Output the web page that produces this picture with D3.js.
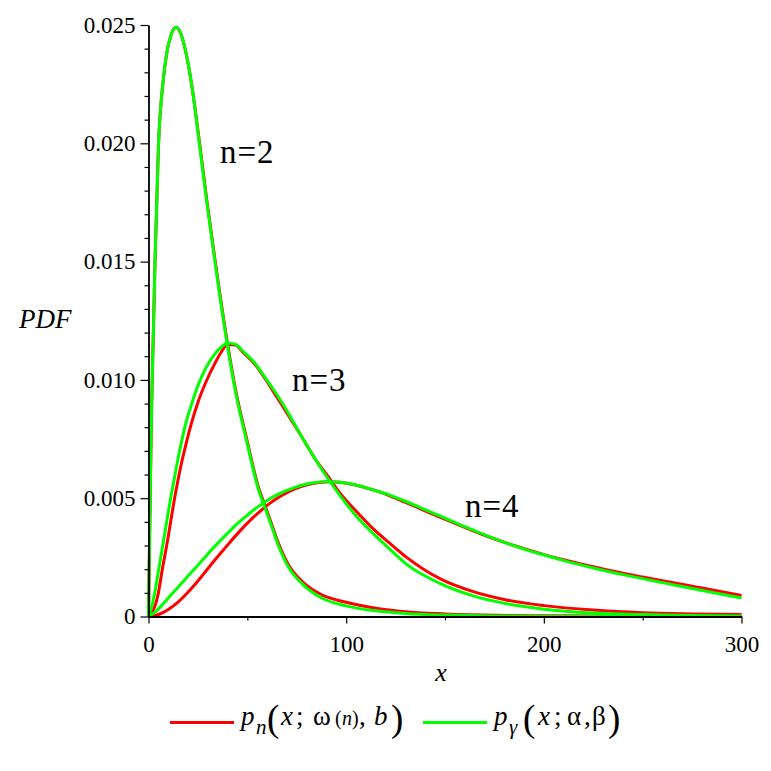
<!DOCTYPE html>
<html>
<head>
<meta charset="utf-8">
<script src="https://cdn.jsdelivr.net/npm/d3@7"></script>
<style>
  body { margin: 0; background: #fff; }
  svg, svg text { font-family: 'Liberation Serif', 'Times New Roman', Times, serif; }
</style>
</head>
<body>
<svg id="chart" width="771" height="771"></svg>
<script>
// ticks
const xTicks = [0, 100, 200, 300];
const xMinorTicks = [50, 150, 250];
const yTicks = [0, 0.005, 0.010, 0.015, 0.020, 0.025];
const yMinorTicks = [0.001, 0.002, 0.003, 0.004, 0.006, 0.007, 0.008, 0.009, 0.011, 0.012, 0.013, 0.014,
                     0.016, 0.017, 0.018, 0.019, 0.021, 0.022, 0.023, 0.024];

// n = 2
const n2X = [0, 0.5, 1, 1.5, 2.4, 3.3, 5, 7.5, 9.2, 11.5, 14, 16.5, 18.5, 21.8, 25.7, 29.5, 33.6, 38.7, 44,
             49.7, 55.5, 58.9, 62.3, 65.7, 70.7, 77.5, 87.6, 100, 115, 130, 150, 175, 200, 250, 300];
const n2Red = [0, 0.0030, 0.0058, 0.0085, 0.0118, 0.0150, 0.0198, 0.0227, 0.0238, 0.0246, 0.0249, 0.0246,
               0.0240, 0.0225, 0.0201, 0.0176, 0.0151, 0.0122, 0.0096, 0.0075, 0.0055, 0.0047, 0.0039,
               0.0031, 0.0022, 0.0015, 0.00092, 0.0006, 0.00035, 0.0002, 0.00011, 0.00005, 0.00003, 0.00001, 0];
const n2Green = [0, 0.0030, 0.0058, 0.0085, 0.0118, 0.0150, 0.0198, 0.0227, 0.0238, 0.0246, 0.0249, 0.0246,
                 0.0240, 0.0225, 0.0200, 0.0175, 0.0150, 0.0121, 0.0095, 0.0074, 0.0054, 0.0046, 0.0038,
                 0.0030, 0.0021, 0.0014, 0.00078, 0.00045, 0.00024, 0.00013, 0.00006, 0.00002, 0.00001, 0, 0];

// n = 3
const n3X = [0, 2, 3.5, 5, 7, 9.2, 11, 13, 15, 17, 19, 21.5, 25.2, 29, 33.6, 37, 40, 44, 48, 53.9, 59, 64, 70,
             77.5, 84, 91, 97, 104.5, 113.7, 122, 130.6, 147.4, 164.3, 181, 200, 225, 250, 275, 300];
const n3Red = [0, 0.0002, 0.0005, 0.0010, 0.0020, 0.0030, 0.0039, 0.0049, 0.0058, 0.0066, 0.0073, 0.0081,
               0.0091, 0.0099, 0.0107, 0.0112, 0.0115, 0.01147, 0.01115, 0.01065, 0.01005, 0.0094, 0.0086,
               0.0076, 0.0067, 0.0059, 0.0052, 0.0045, 0.0037, 0.0031, 0.0025, 0.0016, 0.00105, 0.0007,
               0.00046, 0.00027, 0.00016, 0.00011, 0.00008];
const n3Green = [0, 0.00055, 0.00115, 0.0019, 0.0029, 0.0040, 0.0049, 0.0058, 0.0067, 0.0075, 0.0082, 0.0089,
                 0.0098, 0.0105, 0.0111, 0.0114, 0.01156, 0.0115, 0.0112, 0.0107, 0.0101, 0.0095, 0.0087,
                 0.0076, 0.0067, 0.0058, 0.0051, 0.0043, 0.0035, 0.00285, 0.0022, 0.0014, 0.00087, 0.00054,
                 0.00031, 0.00015, 0.00008, 0.00004, 0.00002];

// n = 4
const n4X = [0, 3.5, 6.7, 10, 15.1, 19, 23.5, 28, 32, 36, 40.4, 44.5, 48.8, 53, 57.3, 61.5, 65.7, 70, 74.1, 78,
             82.5, 87, 91, 97, 104, 113.7, 122, 130.6, 139, 147.4, 156, 164.3, 172, 181.2, 190, 198, 212,
             226.7, 240, 250, 262, 277, 290, 300];
const n4Red = [0, 0.00004, 0.00014, 0.0003, 0.00062, 0.00094, 0.00135, 0.00181, 0.00223, 0.00263, 0.00306,
               0.00345, 0.00384, 0.00419, 0.00451, 0.00479, 0.00503, 0.00523, 0.00539, 0.00551, 0.00561,
               0.00567, 0.0057, 0.00567, 0.00557, 0.00535, 0.0051, 0.0048, 0.0045, 0.0042, 0.0039, 0.00362,
               0.00337, 0.0031, 0.00287, 0.00267, 0.00236, 0.00207, 0.00183, 0.00167, 0.00148, 0.00125,
               0.00105, 0.00089];
const n4Green = [0, 0.0002, 0.00047, 0.00078, 0.00125, 0.00162, 0.00203, 0.00245, 0.00283, 0.00318, 0.00355,
                 0.00389, 0.0042, 0.00449, 0.00475, 0.00498, 0.00517, 0.00533, 0.00546, 0.00556, 0.00564,
                 0.00569, 0.0057, 0.00567, 0.00558, 0.00535, 0.00513, 0.00485, 0.00455, 0.00425, 0.00394,
                 0.00365, 0.00339, 0.0031, 0.00285, 0.00265, 0.00232, 0.00202, 0.00177, 0.0016, 0.0014,
                 0.00115, 0.00094, 0.00078];

const curveLabels = ["n=2", "n=3", "n=4"];
const labelX = [220, 292, 465];
const labelY = [0.01917, 0.00951, 0.0042];

const serif = "'Liberation Serif', 'Times New Roman', Times, serif";
const svg = d3.select("#chart");

const x = d3.scaleLinear().domain([0, 300]).range([148.5, 741.5]);
const y = d3.scaleLinear().domain([0, 0.025]).range([616.5, 25]);

// curves: red first, green on top
const line = d3.line()
    .x(d => x(d[0]))
    .y(d => y(d[1]))
    .curve(d3.curveMonotoneX);

const series = [
    [n2X, n2Red, "#ff0000"], [n3X, n3Red, "#ff0000"], [n4X, n4Red, "#ff0000"],
    [n2X, n2Green, "#00ff00"], [n3X, n3Green, "#00ff00"], [n4X, n4Green, "#00ff00"]
];

svg.append("g").selectAll("path")
    .data(series)
    .enter()
    .append("path")
    .attr("d", d => line(d[0].map((v, i) => [v, d[1][i]])))
    .attr("fill", "none")
    .attr("stroke", d => d[2])
    .attr("stroke-width", 3);

// axes
const yAxis = d3.axisLeft(y)
    .tickValues(yTicks)
    .tickSize(8)
    .tickSizeOuter(0)
    .tickPadding(5)
    .tickFormat(d => d === 0 ? "0" : d3.format(".3f")(d));

svg.append("g")
    .attr("transform", "translate(" + x(0) + ",0)")
    .call(yAxis);

svg.append("g")
    .attr("transform", "translate(" + x(0) + ",0)")
    .call(d3.axisLeft(y).tickValues(yMinorTicks).tickSize(4).tickSizeOuter(0).tickFormat(""))
    .select(".domain").remove();

const xAxis = d3.axisBottom(x)
    .tickValues(xTicks)
    .tickSize(7)
    .tickSizeOuter(0)
    .tickPadding(12)
    .tickFormat(d3.format("d"));

svg.append("g")
    .attr("transform", "translate(0," + y(0) + ")")
    .call(xAxis);

svg.append("g")
    .attr("transform", "translate(0," + y(0) + ")")
    .call(d3.axisBottom(x).tickValues(xMinorTicks).tickSize(4).tickSizeOuter(0).tickFormat(""))
    .select(".domain").remove();

svg.selectAll("g").attr("font-family", serif);
svg.selectAll(".domain").attr("stroke", "#000").attr("stroke-width", 1.8);
svg.selectAll(".tick line").attr("stroke", "#000").attr("stroke-width", 1.2);
svg.selectAll(".tick text")
    .attr("font-family", serif)
    .attr("font-size", 23)
    .attr("fill", "#000");

// axis titles
svg.append("text")
    .attr("x", 441)
    .attr("y", 681)
    .attr("text-anchor", "middle")
    .attr("font-family", serif)
    .attr("font-size", 26)
    .attr("font-style", "italic")
    .text("x");

svg.append("text")
    .attr("x", 19)
    .attr("y", 328)
    .attr("font-family", serif)
    .attr("font-size", 27)
    .attr("font-style", "italic")
    .text("PDF");

// curve labels
svg.append("g").selectAll("text")
    .data(curveLabels)
    .enter()
    .append("text")
    .attr("x", (d, i) => labelX[i])
    .attr("y", (d, i) => y(labelY[i]))
    .attr("font-family", serif)
    .attr("font-size", 33)
    .attr("letter-spacing", 1)
    .text(d => d);

// legend
const legend = svg.append("g").attr("font-family", serif);
legend.append("line")
    .attr("x1", 170).attr("x2", 234).attr("y1", 722.5).attr("y2", 722.5)
    .attr("stroke", "#ff0000").attr("stroke-width", 3);
legend.append("line")
    .attr("x1", 423).attr("x2", 487).attr("y1", 722.5).attr("y2", 722.5)
    .attr("stroke", "#00ff00").attr("stroke-width", 3);

// legend glyphs: [text, x, baseline, size, italic]
const legendParts = [
    ["p", 241, 725, 27, true], ["n", 256, 734, 21, true], ["(", 267, 731, 37, false],
    ["x", 281, 725, 27, true], [";", 296, 725, 27, false], ["ω", 313, 725, 27, false],
    ["(", 335, 725, 20, false], ["n", 342, 725, 20, true], [")", 352, 725, 20, false],
    [",", 359, 725, 27, false], ["b", 374, 725, 27, true], [")", 391, 731, 37, false],
    ["p", 494, 725, 27, true], ["γ", 509, 734, 21, true], ["(", 523, 731, 37, false],
    ["x", 538, 725, 27, true], [";", 554, 725, 27, false], ["α", 567, 725, 27, false],
    [",", 584, 725, 27, false], ["β", 592, 725, 27, false], [")", 608, 731, 37, false]
];

legend.selectAll("text.lg")
    .data(legendParts)
    .enter()
    .append("text")
    .attr("class", "lg")
    .attr("x", d => d[1])
    .attr("y", d => d[2])
    .attr("font-size", d => d[3])
    .attr("font-style", d => d[4] ? "italic" : "normal")
    .text(d => d[0]);
</script>
</body>
</html>
